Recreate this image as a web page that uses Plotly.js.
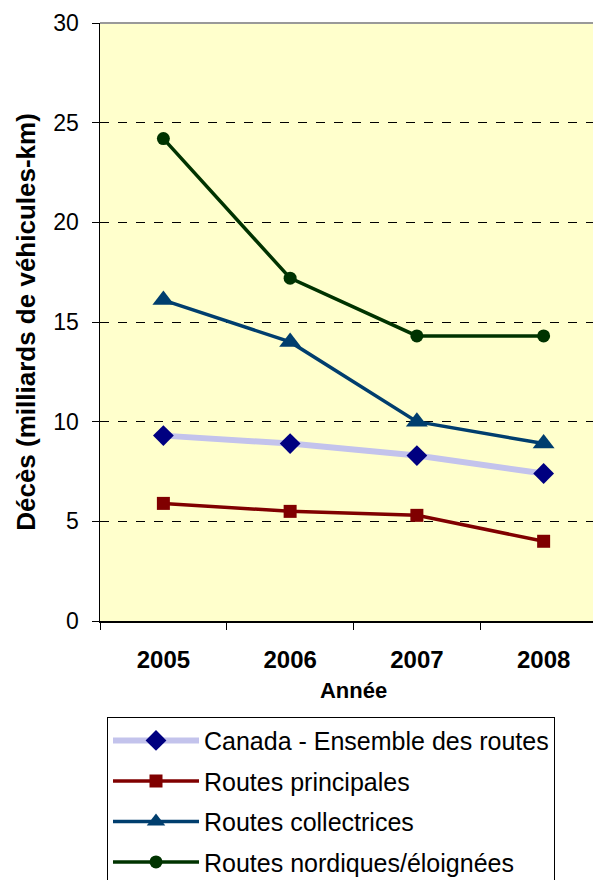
<!DOCTYPE html>
<html>
<head>
<meta charset="utf-8">
<script src="https://cdn.plot.ly/plotly-3.0.1.min.js"></script>
<style>
html,body{margin:0;padding:0;overflow:hidden;background:#fff;width:593px;height:880px;}
#chart{width:610px;height:900px;}
</style>
</head>
<body>
<div id="chart"></div>
<script>
const years = ["2005", "2006", "2007", "2008"];
const canada = [9.3, 8.9, 8.3, 7.4];
const principales = [5.9, 5.5, 5.3, 4.0];
const collectrices = [16.1, 14.0, 10.0, 8.9];
const nordiques = [24.2, 17.2, 14.3, 14.3];
const seriesNames = ["Canada - Ensemble des routes", "Routes principales", "Routes collectrices", "Routes nordiques/éloignées"];
const yTicks = [0, 5, 10, 15, 20, 25, 30];

const FONT = "Liberation Sans, Arial, sans-serif";

const traces = [
  {x: years, y: canada, name: seriesNames[0], legendgroup: "a", mode: "lines+markers",
   line: {color: "#C3C3EC", width: 6}, marker: {symbol: "diamond", size: 16, color: "#000080"}},
  {x: years, y: principales, name: seriesNames[1], legendgroup: "b", mode: "lines+markers",
   line: {color: "#800000", width: 3.5}, marker: {symbol: "square", size: 13, color: "#800000"}},
  {x: years, y: collectrices, name: seriesNames[2], legendgroup: "c", mode: "lines+markers",
   line: {color: "#003E6E", width: 3.5}, marker: {symbol: "triangle-up", size: 19, color: "#003E6E"}},
  {x: years, y: nordiques, name: seriesNames[3], legendgroup: "d", mode: "lines+markers",
   line: {color: "#003300", width: 3.5}, marker: {symbol: "circle", size: 13, color: "#003300"}}
];

const layout = {
  width: 610, height: 900,
  margin: {l: 100, r: 3, t: 23, b: 279, autoexpand: false},
  paper_bgcolor: "#ffffff",
  plot_bgcolor: "#FFFFCC",
  font: {family: FONT, color: "#000"},
  showlegend: true,
  legend: {
    x: 0.0138, y: -0.16, xanchor: "left", yanchor: "top",
    bgcolor: "#ffffff", bordercolor: "#000", borderwidth: 1,
    font: {family: FONT, size: 25, color: "#000"},
    traceorder: "grouped", tracegroupgap: 5, itemwidth: 86
  },
  xaxis: {
    type: "category", range: [-0.5, 3.5], tickson: "boundaries",
    ticks: "outside", ticklen: 7, tickcolor: "#000", tickwidth: 1,
    showline: true, linecolor: "#000", linewidth: 1.5,
    showgrid: false, zeroline: false,
    tickfont: {family: FONT, size: 24, weight: "bold", color: "#000"},
    ticklabelstandoff: 17,
    title: {text: "Année", font: {family: FONT, size: 22, weight: "bold", color: "#000"}, standoff: 10}
  },
  yaxis: {
    range: [0, 30], tickvals: yTicks, ticktext: yTicks.map(String),
    ticks: "outside", ticklen: 7, tickcolor: "#000", tickwidth: 1,
    showline: true, linecolor: "#000", linewidth: 1.5,
    showgrid: true, gridcolor: "#000", griddash: "dash", gridwidth: 1,
    zeroline: false,
    tickfont: {family: FONT, size: 23, color: "#000"},
    ticklabelstandoff: 8,
    title: {text: "Décès (milliards de véhicules-km)", font: {family: FONT, size: 26, weight: "bold", color: "#000"}, standoff: 10}
  },
  shapes: [
    {type: "line", xref: "paper", yref: "paper", x0: 0, x1: 1, y0: 1, y1: 1,
     line: {color: "#999999", width: 2}}
  ]
};

Plotly.newPlot("chart", traces, layout, {displayModeBar: false, staticPlot: true});
</script>
</body>
</html>
